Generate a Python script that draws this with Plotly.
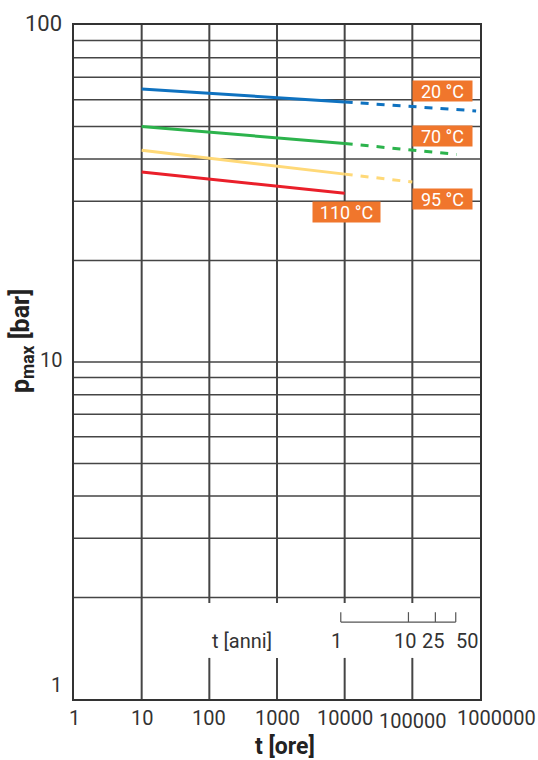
import math
import plotly.graph_objects as go

# ---------------- data ----------------
hours_solid = [10, 10000]
series_names = ["20 °C", "70 °C", "95 °C", "110 °C"]
series_colors = ["#0f72c0", "#2cb34c", "#ffd978", "#ea1f2a"]
solid_vals = {
    "20 °C": [64.6, 59.1],
    "70 °C": [50.0, 44.5],
    "95 °C": [42.5, 36.1],
    "110 °C": [36.6, 31.7],
}
dash_hours = {
    "20 °C": [10000, 876000],
    "70 °C": [10000, 450000],
    "95 °C": [10000, 100000],
}
dash_vals = {
    "20 °C": [59.1, 55.6],
    "70 °C": [44.5, 41.3],
    "95 °C": [36.1, 34.2],
}
x_ticks = [1, 10, 100, 1000, 10000, 100000, 1000000]
x_tick_labels = ["1", "10", "100", "1000", "10000", "100000", "1000000"]
y_ticks = [1, 10, 100]
y_tick_labels = ["1", "10", "100"]
y_grid = [2, 3, 4, 5, 6, 7, 8, 9, 10, 20, 30, 40, 50, 60, 70, 80, 90]
years = [1, 10, 25, 50]
year_labels = ["1", "10", "25", "50"]
HOURS_PER_YEAR = 8760

FONT = "Roboto, Liberation Sans, sans-serif"
GRID = "#454545"
ORANGE = "#f0762c"

fig = go.Figure()

for name, col in zip(series_names, series_colors):
    fig.add_trace(go.Scatter(x=hours_solid, y=solid_vals[name], mode="lines",
                             line=dict(color=col, width=3), showlegend=False,
                             hoverinfo="skip"))
    if name in dash_hours:
        fig.add_trace(go.Scatter(x=dash_hours[name], y=dash_vals[name], mode="lines",
                                 line=dict(color=col, width=3, dash="8px,8px"),
                                 showlegend=False, hoverinfo="skip"))

shapes = []
# horizontal gridlines
for g in y_grid:
    shapes.append(dict(type="line", xref="paper", x0=0, x1=1, yref="y",
                       y0=g, y1=g, line=dict(color=GRID, width=1.5), layer="below"))
# vertical gridlines (broken around the years scale)
for xv in x_ticks[1:-1]:
    if xv == 10:
        segs = [(1, 100)]
    else:
        segs = [(1, 1.324), (1.928, 100)]
    for a, b in segs:
        shapes.append(dict(type="line", xref="x", x0=xv, x1=xv, yref="y",
                           y0=a, y1=b, line=dict(color=GRID, width=2), layer="below"))
# years scale
yr_h = [y * HOURS_PER_YEAR for y in years]
shapes.append(dict(type="line", xref="x", x0=yr_h[0], x1=yr_h[-1], yref="y",
                   y0=1.692, y1=1.692, line=dict(color="#555", width=1.2)))
for h in yr_h:
    shapes.append(dict(type="line", xref="x", x0=h, x1=h, yref="y",
                       y0=1.692, y1=1.81, line=dict(color="#555", width=1.2)))

annotations = []
# series labels
label_pos = {
    "20 °C": (0.9076, 0.9021, 59),
    "70 °C": (0.9076, 0.8353, 59),
    "95 °C": (0.9076, 0.7418, 59),
    "110 °C": (0.6712, 0.7226, 67),
}
for name in series_names:
    px, py, w = label_pos[name]
    annotations.append(dict(text=name, xref="paper", yref="paper", x=px, y=py,
                            xanchor="center", yanchor="middle",
                            showarrow=False, bgcolor=ORANGE, width=w, height=20,
                            borderpad=0, font=dict(family=FONT, size=18, color="white")))
# x tick labels
for v, t in zip(x_ticks, x_tick_labels):
    xs = 0
    ys = 0
    if v == 1000000:
        xs = 16
    if v == 100000:
        ys = -3
    annotations.append(dict(text=t, xref="x", yref="paper", x=math.log10(v), y=0,
                            yanchor="top", xanchor="center", yshift=-5 + ys, xshift=xs,
                            showarrow=False, font=dict(family=FONT, size=20, color="#333")))
# y tick labels
for v, t in zip(y_ticks, y_tick_labels):
    ys = 14 if v == 1 else 2
    sz = 22 if v == 100 else 20
    annotations.append(dict(text=t, xref="paper", yref="y", x=0, y=math.log10(v),
                            xanchor="right", yanchor="middle", xshift=-10, yshift=ys,
                            showarrow=False, font=dict(family=FONT, size=sz, color="#333")))
# years labels
for h, t in zip(yr_h, year_labels):
    xs = {"1": -4, "10": -3, "25": -2, "50": 11}[t]
    annotations.append(dict(text=t, xref="x", yref="y", x=math.log10(h), y=math.log10(1.692),
                            yanchor="top", xanchor="center", yshift=-5, xshift=xs,
                            showarrow=False, font=dict(family=FONT, size=20, color="#333")))
annotations.append(dict(text="t [anni]", xref="paper", yref="y", x=(242 - 74) / 406,
                        y=math.log10(1.692), yanchor="top", xanchor="center", yshift=-5,
                        showarrow=False, font=dict(family=FONT, size=20, color="#333")))
# axis titles
annotations.append(dict(text="<b>t [ore]</b>", xref="paper", yref="paper",
                        x=(285 - 74) / 406, y=-0.07, xanchor="center", yanchor="middle",
                        showarrow=False, font=dict(family=FONT, size=23, color="#222")))
annotations.append(dict(text="<b>p<sub>max</sub> [bar]</b>", xref="paper", yref="paper",
                        x=-0.128, y=1 - (341 - 25) / 674, xanchor="center", yanchor="middle",
                        textangle=-90, showarrow=False,
                        font=dict(family=FONT, size=25, color="#222")))

fig.update_layout(
    width=538, height=760,
    margin=dict(l=74, r=58, t=25, b=61),
    paper_bgcolor="white", plot_bgcolor="white",
    shapes=shapes, annotations=annotations,
    xaxis=dict(type="log", range=[0, 6], showgrid=False, showticklabels=False,
               ticks="", showline=True, linecolor="#333", linewidth=2, mirror=True,
               zeroline=False, fixedrange=True),
    yaxis=dict(type="log", range=[0, 2], showgrid=False, showticklabels=False,
               ticks="", showline=True, linecolor="#333", linewidth=2, mirror=True,
               zeroline=False, fixedrange=True),
    showlegend=False,
)

fig.write_html("out.html", config={"displayModeBar": False},
               post_script="document.body.style.margin='0px';document.body.style.overflow='hidden';")
